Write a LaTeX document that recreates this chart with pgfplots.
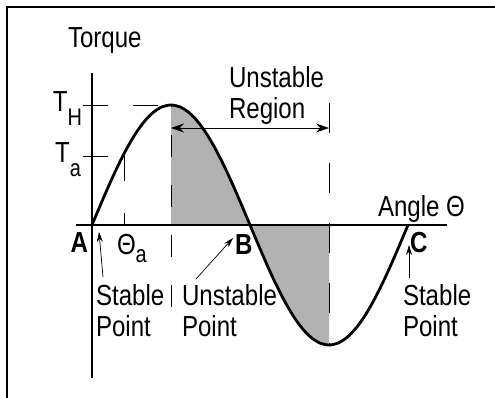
\documentclass[border=0pt]{standalone}
\usepackage{fontspec}
\setmainfont[FakeStretch=0.83]{Liberation Sans}
\usepackage{pgfplots}
\pgfplotsset{compat=1.18}
\usepgfplotslibrary{fillbetween}
\usetikzlibrary{arrows.meta}
\tikzset{
  lab/.style={inner sep=0pt, outer sep=0pt, anchor=base west, font=\fontsize{29}{31}\selectfont},
  labe/.style={lab, anchor=base east},
  guide/.style={line width=0.8pt},
}
\newcommand{\sub}[2]{\raisebox{#1}{\fontsize{24}{24}\selectfont #2}}
\begin{document}
\begin{tikzpicture}
\begin{axis}[
  at={(0,0)}, anchor=south west,
  scale only axis, width=495pt, height=398pt,
  xmin=-104.81, xmax=459.11, ymin=-1.44167, ymax=1.875,
  hide axis, clip=false,
]
% frame
\draw[line width=1.6pt] (axis cs:-96.84,-1.44167) -- (axis cs:-96.84,1.8167) -- (axis cs:459.11,1.8167);
% torque-angle curve (theta in degrees, torque relative to T_H)
\addplot[name path=curve, line width=2.8pt, smooth, no marks] coordinates {
(0,0) (10,0.1736) (20,0.3420) (30,0.5) (40,0.6428) (50,0.7660) (60,0.8660) (70,0.9397) (80,0.9848) (90,1)
(100,0.9848) (110,0.9397) (120,0.8660) (130,0.7660) (140,0.6428) (150,0.5) (160,0.3420) (170,0.1736) (180,0)
(190,-0.1736) (200,-0.3420) (210,-0.5) (220,-0.6428) (230,-0.7660) (240,-0.8660) (250,-0.9397) (260,-0.9848) (270,-1)
(280,-0.9848) (290,-0.9397) (300,-0.8660) (310,-0.7660) (320,-0.6428) (330,-0.5) (340,-0.3420) (350,-0.1736) (360,0)
};
\path[name path=zero] (axis cs:-20,0) -- (axis cs:400,0);
\addplot[fill=gray!60, draw=none] fill between[of=curve and zero, soft clip={domain=90:270}];
% axes
\draw[line width=1.4pt] (axis cs:-18.23,0) -- (axis cs:404.43,0);
\draw[line width=1.4pt] (axis cs:0,1.2667) -- (axis cs:0,-1.275);
% guides
\draw[guide, dash pattern=on 25pt off 25pt] (axis cs:-10.25,1) -- (axis cs:90,1);
\draw[guide] (axis cs:-10.25,0.575) -- (axis cs:18.23,0.575);
\draw[guide, dash pattern=on 25pt off 32pt] (axis cs:36.46,0.575) -- (axis cs:36.46,0);
\draw[guide, dash pattern=on 22pt off 28pt, dash phase=20pt] (axis cs:90,1) -- (axis cs:90,-0.7667);
\draw[guide, dash pattern=on 30pt off 30pt] (axis cs:270,1.0167) -- (axis cs:270,-1);
% unstable region arrow
\draw[line width=0.8pt, {Stealth[length=13pt,width=9pt]}-{Stealth[length=13pt,width=9pt]}] (axis cs:90,0.8083) -- (axis cs:270,0.8083);
% pointer arrows
\draw[line width=0.7pt, -{Stealth[length=10pt,width=6pt]}] (axis cs:12.53,-0.4333) -- (axis cs:7.97,-0.0583);
\draw[line width=0.7pt, -{Stealth[length=10pt,width=6pt]}] (axis cs:118.48,-0.45) -- (axis cs:160.63,-0.1083);
\draw[line width=0.7pt, -{Stealth[length=10pt,width=6pt]}] (axis cs:361.14,-0.4417) -- (axis cs:361.14,-0.1667);
% labels
\node[lab] at (axis cs:-27.34,1.475) {Torque};
\node[labe] at (axis cs:-11.39,0.9417) {T\sub{-14pt}{H}};
\node[labe] at (axis cs:-12.53,0.5167) {T\sub{-14pt}{a}};
\node[labe, font=\fontsize{29}{31}\selectfont\bfseries] at (axis cs:-4.56,-0.2333) {A};
\node[lab] at (axis cs:28.48,-0.25) {Θ\sub{-8pt}{a}};
\node[lab, font=\fontsize{29}{31}\selectfont\bfseries] at (axis cs:162.91,-0.25) {B};
\node[lab, font=\fontsize{29}{31}\selectfont\bfseries] at (axis cs:362.28,-0.2333) {C};
\node[lab] at (axis cs:325.82,0.0667) {Angle Θ};
\node[lab] at (axis cs:156.08,1.1417) {Unstable};
\node[lab] at (axis cs:156.08,0.8833) {Region};
\node[lab] at (axis cs:4.56,-0.675) {Stable};
\node[lab] at (axis cs:4.56,-0.9333) {Point};
\node[lab] at (axis cs:102.53,-0.675) {Unstable};
\node[lab] at (axis cs:102.53,-0.9333) {Point};
\node[lab] at (axis cs:354.30,-0.675) {Stable};
\node[lab] at (axis cs:354.30,-0.9333) {Point};
\end{axis}
\pgfresetboundingbox
\useasboundingbox (0,0) rectangle (495pt,398pt);
\end{tikzpicture}
\end{document}
